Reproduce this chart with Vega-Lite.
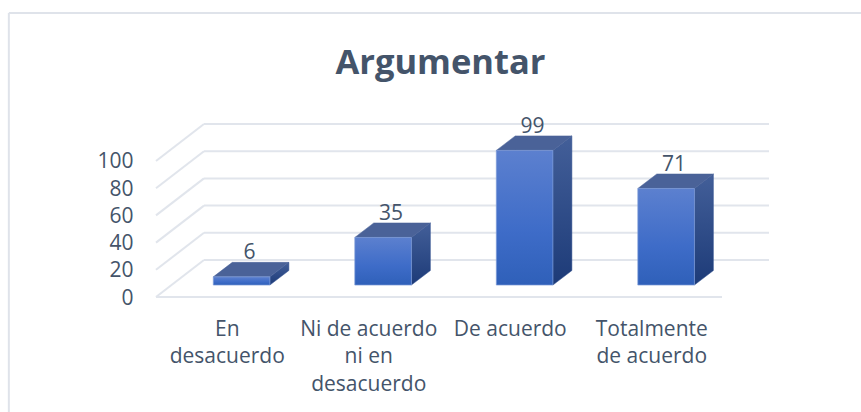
{
"$schema":"https://vega.github.io/schema/vega-lite/v6.json",
"width":613,"height":173,
"autosize":"none",
"padding":{"left":156,"top":124,"right":92,"bottom":115},
"background":"#ffffff",
"view":{"stroke":null},
"title":{"text":"Argumentar","font":"Open Sans","fontSize":34.5,"fontWeight":"bold","color":"#44546a","anchor":"middle","dx":-22,"offset":-103,"baseline":"bottom"},
"datasets":{
"respuestas":[
{"categoria":"En desacuerdo","valor":6},
{"categoria":"Ni de acuerdo ni en desacuerdo","valor":35},
{"categoria":"De acuerdo","valor":99},
{"categoria":"Totalmente de acuerdo","valor":71}
],
"marcas":[{"m":0},{"m":20},{"m":40},{"m":60},{"m":80},{"m":100}]
},
"config":{"axis":{"labelFont":"Open Sans","labelColor":"#44546a","labelFontSize":21,"domain":false,"ticks":false,"grid":false,"title":null,"labelOverlap":false,"labelBound":false,"labelFlush":false}},
"layer":[
{"data":{"name":"marcas"},
 "transform":[{"calculate":"datum.m+27.2","as":"atras"}],
 "mark":{"type":"rule","color":"#e1e5ec","strokeWidth":2},
 "encoding":{"x":{"datum":0,"type":"quantitative","scale":{"domain":[0,4.332],"nice":false,"zero":false},
   "axis":{"values":[0.5,1.5,2.5,3.5],"tickCount":10,"orient":"bottom","labelOffset":0,"labelPadding":21,"labelLineHeight":27.5,"labelBaseline":"top","labelOverlap":false,"labelExpr":"datum.value<1?['En','desacuerdo']:datum.value<2?['Ni de acuerdo','ni en','desacuerdo']:datum.value<3?'De acuerdo':['Totalmente','de acuerdo']"}},
  "x2":{"datum":0.339},
  "y":{"field":"m","type":"quantitative","scale":{"domain":[0,127.2],"nice":false,"zero":false},
   "axis":{"values":[0,20,40,60,80,100],"tickCount":10,"labelPadding":23,"labelOffset":1,"labelOverlap":false}},
  "y2":{"field":"atras"}}},
{"data":{"values":[{"a":-1.04,"b":5.0,"c":208.8,"d":208.8},{"a":-1.04,"b":-1.04,"c":-85,"d":208.8}]},
 "mark":{"type":"rule","color":"#dfe3ea","strokeWidth":2,"clip":false},
 "encoding":{"x":{"field":"a","type":"quantitative"},"x2":{"field":"b"},"y":{"field":"c","type":"quantitative"},"y2":{"field":"d"}}},
{"data":{"name":"marcas"},
 "transform":[{"calculate":"datum.m+27.2","as":"atras"}],
 "mark":{"type":"rule","color":"#e1e5ec","strokeWidth":2},
 "encoding":{"x":{"datum":0.339,"type":"quantitative"},"x2":{"datum":4.332},"y":{"field":"atras","type":"quantitative"}}},
{"mark":{"type":"rule","color":"#e1e5ec","strokeWidth":2},"data":{"values":[{"m":0}]},
 "encoding":{"x":{"datum":0,"type":"quantitative"},"x2":{"datum":4},"y":{"field":"m","type":"quantitative"}}},
{"data":{"name":"respuestas"},
 "transform":[
  {"window":[{"op":"row_number","as":"n"}]},
  {"calculate":"datum.n-1+0.405","as":"x0"},
  {"calculate":"datum.x0+0.4","as":"x1"},
  {"calculate":"datum.x1+0.134","as":"x2b"},
  {"calculate":"8.8","as":"b0"},
  {"calculate":"8.8+datum.valor","as":"t0"},
  {"calculate":"8.8+10.66","as":"b1"},
  {"calculate":"8.8+datum.valor+10.66","as":"t1"},
  {"calculate":"[{px:datum.x1,lo:datum.b0,hi:datum.t0},{px:datum.x2b,lo:datum.b1,hi:datum.t1}]","as":"p"},
  {"flatten":["p"]},
  {"calculate":"datum.p.px","as":"px"},{"calculate":"datum.p.lo","as":"lo"},{"calculate":"datum.p.hi","as":"hi"}
 ],
 "mark":{"type":"area","stroke":"#2f4f8f","strokeWidth":0.5,"fill":{"x1":0,"y1":0,"x2":0,"y2":1,"gradient":"linear","stops":[{"offset":0,"color":"#435f99"},{"offset":1,"color":"#1d3b78"}]}},
 "encoding":{"x":{"field":"px","type":"quantitative"},"y":{"field":"lo","type":"quantitative"},"y2":{"field":"hi"},"detail":{"field":"categoria"}}},
{"data":{"name":"respuestas"},
 "transform":[
  {"window":[{"op":"row_number","as":"n"}]},
  {"calculate":"datum.n-1+0.405","as":"x0"},
  {"calculate":"datum.valor+8.8","as":"t"},
  {"calculate":"[{px:datum.x0,lo:datum.t,hi:datum.t},{px:datum.x0+0.134,lo:datum.t,hi:datum.t+10.66},{px:datum.x0+0.4,lo:datum.t,hi:datum.t+10.66},{px:datum.x0+0.534,lo:datum.t+10.66,hi:datum.t+10.66}]","as":"p"},
  {"flatten":["p"]},
  {"calculate":"datum.p.px","as":"px"},{"calculate":"datum.p.lo","as":"lo"},{"calculate":"datum.p.hi","as":"hi"}
 ],
 "mark":{"type":"area","fill":"#4a6298","stroke":"#4a6298","strokeWidth":0.5},
 "encoding":{"x":{"field":"px","type":"quantitative"},"y":{"field":"lo","type":"quantitative"},"y2":{"field":"hi"},"detail":{"field":"categoria"}}},
{"data":{"name":"respuestas"},
 "transform":[
  {"window":[{"op":"row_number","as":"n"}]},
  {"calculate":"datum.n-1+0.405","as":"x0"},
  {"calculate":"datum.x0+0.4","as":"x1"},
  {"calculate":"8.8","as":"b0"},
  {"calculate":"8.8+datum.valor","as":"t0"}
 ],
 "mark":{"type":"rect","stroke":"#7d9bd8","strokeWidth":0.7,"fill":{"x1":0,"y1":0,"x2":0,"y2":1,"gradient":"linear","stops":[{"offset":0,"color":"#5c80cf"},{"offset":0.6,"color":"#3e6cc8"},{"offset":1,"color":"#2f60b9"}]}},
 "encoding":{"x":{"field":"x0","type":"quantitative"},"x2":{"field":"x1"},"y":{"field":"b0","type":"quantitative"},"y2":{"field":"t0"}}},
{"data":{"name":"respuestas"},
 "transform":[
  {"window":[{"op":"row_number","as":"n"}]},
  {"calculate":"datum.n-1+0.66","as":"xc"},
  {"calculate":"datum.valor+19.5","as":"yt"}
 ],
 "mark":{"type":"text","font":"Open Sans","fontSize":21,"color":"#44546a","baseline":"bottom","dy":1},
 "encoding":{"x":{"field":"xc","type":"quantitative"},"y":{"field":"yt","type":"quantitative"},"text":{"field":"valor"}}}
]
}
